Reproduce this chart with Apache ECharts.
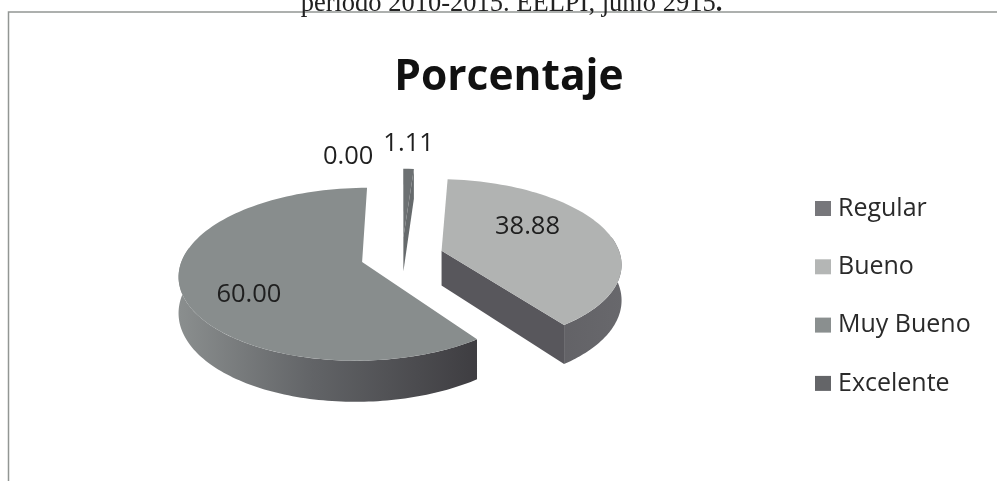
<!DOCTYPE html>
<html><head><meta charset="utf-8">
<style>html,body{margin:0;padding:0;background:#fff}#c{width:997px;height:481px}</style>
<script src="https://cdn.jsdelivr.net/npm/echarts@6/dist/echarts.min.js"></script>
</head><body><div id="c"></div>
<script>
const categories = ['Regular','Bueno','Muy Bueno','Excelente'];
const percentages = [0.00,38.88,60.00,1.11];
const chartTitle = 'Porcentaje';
const captionText = 'periodo 2010-2015. EELPI, junio 2915';

const legendColors = ['#77777b','#b4b6b5','#8a8f8f','#646568'];
const topColors = ['#77777b','#b1b3b2','#888d8d','#6c7072'];
const wallColors = ['#66666a',
  {type:'linear',global:true,x:445,y:0,x2:622,y2:0,colorStops:[{offset:0,color:'#58575c'},{offset:1,color:'#68686c'}]},
  {type:'linear',global:true,x:180,y:0,x2:473,y2:0,colorStops:[{offset:0,color:'#8a8e8e'},{offset:.45,color:'#626467'},{offset:1,color:'#3f3e42'}]},
  '#5f6264'];
const cutColors = ['#66666a','#58575c','#3f3e42','#666a6c'];
const zOrder = [2,3,4,1];
const labelLayout = [
  {r:1.0,dx:-67,dy:-12},
  {r:.5,dx:3,dy:-13},
  {r:.65,dx:3,dy:15},
  {r:1.0,dx:0,dy:-25}
];
const FIRST_ANGLE = 4, CX = 402, CY = 256, RX = 179, RY = 83, K = 0.14, DEPTH = 35, EXPLODE = 0.232;
const WALL_FROM = 80, WALL_TO = 280;

const total = percentages.reduce((a,b)=>a+b,0);
function startOf(i){let s=0;for(let j=0;j<i;j++)s+=percentages[j];return s;}
function proj(u,v,d){const w=1-K*v;return [CX+RX*u/w,CY+RY*v/w+DEPTH*d/w];}

function makeRender(i){
  return function(params,api){
    const s=api.value(0),val=api.value(1);
    const a0=(FIRST_ANGLE+s/total*360)*Math.PI/180,a1=a0+val/total*2*Math.PI,mid=(a0+a1)/2;
    const ex=Math.sin(mid)*EXPLODE,ey=-Math.cos(mid)*EXPLODE;
    const P=(a,r,d)=>proj(ex+Math.sin(a)*r,ey-Math.cos(a)*r,d);
    const kids=[];
    if(val>0){
      const n=Math.max(2,Math.ceil((a1-a0)/(Math.PI/90)));
      const top=[];
      for(let k=0;k<=n;k++){const a=a0+(a1-a0)*k/n;top.push(P(a,1,0));}
      const poly=(pts,fill)=>({type:'polygon',shape:{points:pts},style:{fill:fill,stroke:null}});
      if(Math.sin(a1)>0.01) kids.push(poly([P(a1,0,0),P(a1,1,0),P(a1,1,1),P(a1,0,1)],cutColors[i]));
      if(-Math.sin(a0)>0.01) kids.push(poly([P(a0,0,0),P(a0,1,0),P(a0,1,1),P(a0,0,1)],cutColors[i]));
      const w0=Math.max(a0,WALL_FROM*Math.PI/180),w1=Math.min(a1,WALL_TO*Math.PI/180);
      if(w1>w0){
        const wt=[],wb=[];
        for(let k=0;k<=n;k++){const a=w0+(w1-w0)*k/n;wt.push(P(a,1,0));wb.push(P(a,1,1));}
        kids.push(poly(wt.concat(wb.reverse()),wallColors[i]));
      }
      kids.push(poly([P(a0,0,0)].concat(top),topColors[i]));
    }
    const L=labelLayout[i],lp=P(mid,L.r,0);
    kids.push({type:'text',z2:10,style:{text:val.toFixed(2),x:lp[0]+L.dx,y:lp[1]+L.dy,fill:'#1f1f1f',
      font:'25.5px "Open Sans"',align:'center',verticalAlign:'middle'}});
    return {type:'group',children:kids};
  };
}

const chart=echarts.init(document.getElementById('c'),null,{renderer:'canvas'});
chart.setOption({
  animation:false,
  backgroundColor:'#fff',
  title:[
    {text:chartTitle,left:509,top:56,padding:0,textAlign:'center',textStyle:{fontFamily:'Open Sans',fontWeight:'bold',fontSize:42.5,color:'#111'}},
    {text:'{a|'+captionText+'}{b|.}',left:511.5,top:-9,padding:0,textAlign:'center',textStyle:{rich:{
      a:{fontFamily:'Liberation Serif',fontWeight:'normal',fontSize:26.5,color:'#222'},
      b:{fontFamily:'Liberation Serif',fontWeight:'bold',fontSize:26.5,color:'#222'}}}}
  ],
  graphic:[{type:'rect',z:-1,shape:{x:8.5,y:12,width:1000,height:500},style:{fill:'none',stroke:'#929694',lineWidth:1.5}}],
  legend:{orient:'vertical',left:815,top:196,padding:0,itemWidth:16,itemHeight:15,itemGap:33.3,icon:'rect',
    data:categories,textStyle:{fontFamily:'Open Sans',fontSize:25,color:'#2a2a2a',padding:[0,0,0,2]}},
  series:categories.map((name,i)=>({
    type:'custom',name:name,coordinateSystem:'none',z:zOrder[i],
    itemStyle:{color:legendColors[i]},
    renderItem:makeRender(i),
    data:[[startOf(i),percentages[i]]]
  }))
});
</script></body></html>
